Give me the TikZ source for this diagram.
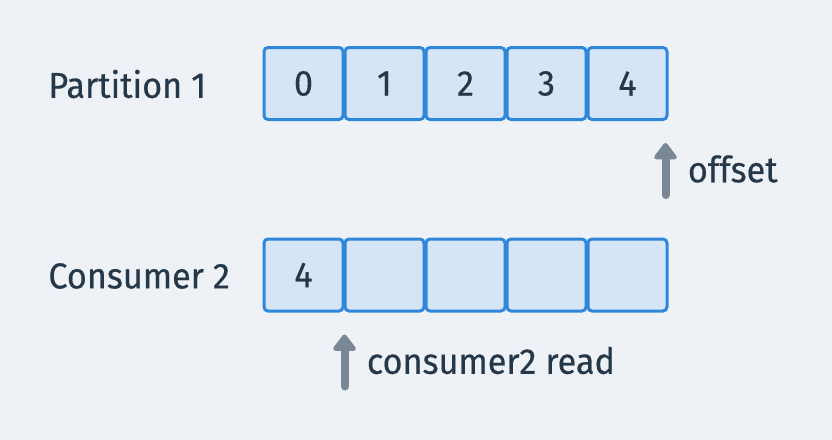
\documentclass[tikz,border=0pt]{standalone}
\usepackage{fontspec}
\setmainfont{Fira Sans}[FakeStretch=0.95,FakeBold=0.4]
\usetikzlibrary{arrows.meta}
\definecolor{bgcol}{HTML}{EEF2F6}
\definecolor{cellfill}{HTML}{D5E5F5}
\definecolor{celldraw}{HTML}{2F87D9}
\definecolor{txtcol}{HTML}{25384A}
\definecolor{ptrcol}{HTML}{7A8794}
\tikzset{
  cell/.style={draw=celldraw, fill=cellfill, line width=1.5pt, rounded corners=2pt,
    minimum width=39.5pt, minimum height=36pt, inner sep=0pt, text=txtcol, font=\fontsize{18}{20}\selectfont},
  lbl/.style={anchor=west, inner sep=0pt, text=txtcol, font=\fontsize{18}{20}\selectfont},
  ptr/.style={-{Triangle[width=13pt,length=9pt,round]}, line width=4pt, line cap=round, draw=ptrcol}
}
\begin{document}
\begin{tikzpicture}[x=0.5pt,y=-0.5pt]
    \fill [bgcol] (0,0) rectangle (832,440);
    \useasboundingbox (0,0) rectangle (832,440);
    % rows
    \node [lbl] (plbl) at (48,84) {Partition 1};
    \node [lbl] (clbl) at (48,276) {Consumer 2};
    \foreach \i in {0,...,4} {
      \node [cell] (p\i) at (303.5+81*\i,83.5) {\i};
    }
    \node [cell] (c0) at (303.5,275) {4};
    \foreach \i in {1,...,4} {
      \node [cell] (c\i) at (303.5+81*\i,275) {};
    }
    % pointers
    \coordinate (offtip) at ([xshift=-1.5pt,yshift=-11pt]p4.south east);
    \coordinate (offtail) at ([xshift=-1.5pt,yshift=-37pt]p4.south east);
    \draw [ptr] (offtail) -- (offtip);
    \node [lbl] (offlbl) at ([xshift=11pt,yshift=-13pt]offtip) {offset};
    \coordinate (readtip) at ([yshift=-11pt]c0.south east);
    \coordinate (readtail) at ([yshift=-37pt]c0.south east);
    \draw [ptr] (readtail) -- (readtip);
    \node [lbl] (readlbl) at ([xshift=11pt,yshift=-13pt]readtip) {consumer2 read};
\end{tikzpicture}
\end{document}
